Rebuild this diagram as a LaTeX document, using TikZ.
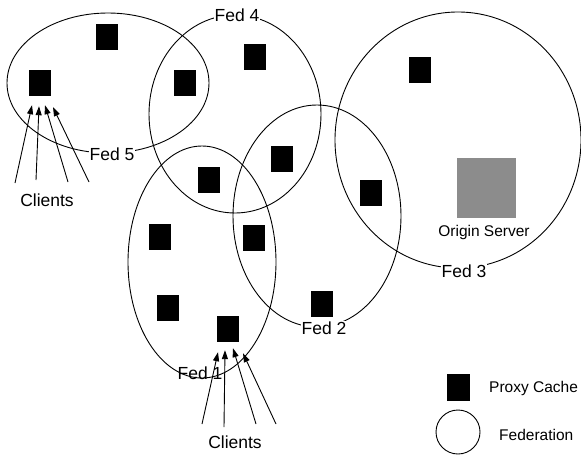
\documentclass[tikz,border=0pt]{standalone}
\usepackage{fontspec}
\setmainfont{Liberation Sans}
\usetikzlibrary{arrows.meta,calc}
\begin{document}
\begin{tikzpicture}[x=1pt,y=-1pt,
  fed/.style={draw=black,line width=0.9pt},
  cache/.style={fill=black,minimum width=22pt,minimum height=26pt,inner sep=0pt},
  lbl/.style={fill=white,inner sep=1pt,font=\fontsize{17.5}{19}\selectfont},
  small/.style={inner sep=1pt,font=\fontsize{15.5}{17}\selectfont},
  arr/.style={line width=0.9pt,-{Triangle[length=9pt,width=6pt]}}]
\fill[white] (0,0) rectangle (581,458);
\useasboundingbox (0,0) rectangle (581,458);
% federations
\draw[fed] (108,83) ellipse [x radius=101,y radius=70];
\draw[fed] (235,114) ellipse [x radius=86,y radius=99];
\draw[fed] (202,262) ellipse [x radius=74,y radius=116];
\draw[fed] (317,216) ellipse [x radius=84,y radius=111];
\draw[fed] (458,140) ellipse [x radius=123,y radius=128];
% proxy caches
\node[cache] (c1) at (107,37) {};
\node[cache] (c2) at (40,83) {};
\node[cache] (c3) at (185,83) {};
\node[cache] (c4) at (255,57) {};
\node[cache] (c5) at (420,70) {};
\node[cache] (c6) at (282,159) {};
\node[cache] (c7) at (209,180) {};
\node[cache] (c8) at (371,193) {};
\node[cache] (c9) at (160,237) {};
\node[cache] (c10) at (254,238) {};
\node[cache] (c11) at (168,308) {};
\node[cache] (c12) at (228,329) {};
\node[cache] (c13) at (322,304) {};
% origin server
\node[fill={rgb,255:red,140;green,140;blue,140},minimum width=59pt,minimum height=60pt,inner sep=0pt] (os) at (486,188) {};
\node[small] (oslbl) at (484,232) {Origin Server};
% fed labels
\node[lbl] (f4) at (237,15) {Fed 4};
\node[lbl] (f5) at (112,154) {Fed 5};
\node[lbl] (f3) at (464,271) {Fed 3};
\node[lbl] (f2) at (324,328) {Fed 2};
\node[lbl,fill=none] (f1) at (200,373) {Fed 1};
% clients top
\node[lbl] (cl1) at (47,200) {Clients};
\coordinate (a1) at (15,183);
\coordinate (a2) at (36,180);
\coordinate (a3) at (68,182);
\coordinate (a4) at (89,182);
\draw[arr] (a1) -- ([xshift=-8pt,yshift=-9pt]c2.south);
\draw[arr] (a2) -- ([xshift=-1pt,yshift=-10pt]c2.south);
\draw[arr] (a3) -- ([xshift=5pt,yshift=-9pt]c2.south);
\draw[arr] (a4) -- ([xshift=13pt,yshift=-11pt]c2.south);
% clients bottom
\node[lbl] (cl2) at (235,442) {Clients};
\coordinate (b1) at (202,424);
\coordinate (b2) at (224,427);
\coordinate (b3) at (256,424);
\coordinate (b4) at (276,424);
\draw[arr] (b1) -- ([xshift=-10pt,yshift=-10pt]c12.south);
\draw[arr] (b2) -- ([xshift=-3pt,yshift=-8pt]c12.south);
\draw[arr] (b3) -- ([xshift=5pt,yshift=-6pt]c12.south);
\draw[arr] (b4) -- ([xshift=15pt,yshift=-11pt]c12.south);
% legend
\node[cache,minimum width=23pt,minimum height=27pt] (lc) at (458,387) {};
\node[small,anchor=west] (lct) at (488,388) {Proxy Cache};
\draw[fed] (458,432) ellipse [x radius=22,y radius=22];
\node[small,anchor=west] (lft) at (498,435) {Federation};
\end{tikzpicture}
\end{document}
